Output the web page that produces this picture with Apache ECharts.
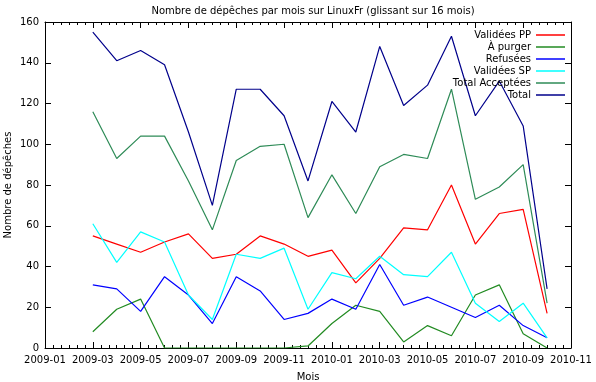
<!DOCTYPE html>
<html>
<head>
<meta charset="utf-8">
<script src="https://cdn.jsdelivr.net/npm/echarts@6/dist/echarts.min.js"></script>
<style>
html,body{margin:0;padding:0;background:#fff;overflow:hidden;}
#chart{width:596px;height:382px;}
</style>
</head>
<body>
<div id="chart"></div>
<script>
// Data (monthly, sliding over 16 months)
const months = ['2009-03','2009-04','2009-05','2009-06','2009-07','2009-08','2009-09','2009-10','2009-11','2009-12',
                '2010-01','2010-02','2010-03','2010-04','2010-05','2010-06','2010-07','2010-08','2010-09','2010-10'];
const validesPP      = [55, 51, 47, 52, 56, 44, 46, 55, 51, 45, 48, 32, 44, 59, 58, 80, 51, 66, 68, 17];
const aPurger        = [ 8, 19, 24,  0,  0,  0,  0,  0,  0,  1, 12, 21, 18,  3, 11,  6, 26, 31,  7,  0];
const refusees       = [31, 29, 18, 35, 26, 12, 35, 28, 14, 17, 24, 19, 41, 21, 25, 20, 15, 21, 11,  5];
const validesSP      = [61, 42, 57, 52, 26, 14, 46, 44, 49, 19, 37, 34, 45, 36, 35, 47, 22, 13, 22,  5];
const totalAcceptees = [116, 93, 104, 104, 82, 58, 92, 99, 100, 64, 85, 66, 89, 95, 93, 127, 73, 79, 90, 22];
const total          = [155, 141, 146, 139, 106, 70, 127, 127, 114, 82, 121, 106, 148, 119, 129, 153, 114, 131, 109, 29];
const seriesNames = ['Validées PP', 'À purger', 'Refusées', 'Validées SP', 'Total Acceptées', 'Total'];
const yTicks = [0, 20, 40, 60, 80, 100, 120, 140, 160];
const xStart = '2009-01', xEnd = '2010-11';

const colors = ['#ff0000', '#228b22', '#0000ff', '#00ffff', '#2e8b57', '#00008b'];
const FONT = 'DejaVu Sans';

function monthIndex(s) {
  const [y, m] = s.split('-').map(Number);
  const [y0, m0] = xStart.split('-').map(Number);
  return (y - y0) * 12 + (m - m0);
}
function monthLabel(i) {
  const [y0, m0] = xStart.split('-').map(Number);
  const t = y0 * 12 + (m0 - 1) + Math.round(i);
  const y = Math.floor(t / 12), m = t % 12 + 1;
  return y + '-' + (m < 10 ? '0' + m : m);
}
const xs = months.map(monthIndex);
const allData = [validesPP, aPurger, refusees, validesSP, totalAcceptees, total];

const chart = echarts.init(document.getElementById('chart'), null, {renderer: 'canvas'});

const xMin = 0, xMax = monthIndex(xEnd);
const baseX = {
  type: 'value', min: xMin, max: xMax, interval: 2,
  axisLine: {show: true, onZero: false, lineStyle: {color: '#000', width: 1}},
  axisTick: {show: true, inside: true, length: 6, lineStyle: {color: '#000'}},
  minorTick: {show: true, splitNumber: 6, length: 3, lineStyle: {color: '#000'}},
  splitLine: {show: false}
};
const baseY = {
  type: 'value', min: yTicks[0], max: yTicks[yTicks.length - 1], interval: yTicks[1] - yTicks[0],
  axisLine: {show: true, onZero: false, lineStyle: {color: '#000', width: 1}},
  axisTick: {show: true, inside: true, length: 6, lineStyle: {color: '#000'}},
  splitLine: {show: false}
};

const legends = seriesNames.map((n, i) => ({
  data: [n], orient: 'vertical', right: 31, top: 30 + 12 * i, padding: 0,
  align: 'right', icon: 'rect', itemWidth: 29, itemHeight: 1.5,
  selectedMode: false,
  textStyle: {fontFamily: FONT, fontSize: 10, color: '#000', padding: [0, 0, 0, 0]}
}));

chart.setOption({
  animation: false,
  backgroundColor: '#fff',
  title: {
    text: 'Nombre de dépêches par mois sur LinuxFr (glissant sur 16 mois)',
    left: 308, top: 1, textAlign: 'center',
    textStyle: {fontFamily: FONT, fontSize: 10, fontWeight: 'normal', color: '#000'}
  },
  legend: legends,
  grid: {left: 45, right: 25, top: 22, bottom: 34, containLabel: false, outerBoundsMode: 'none'},
  xAxis: [
    Object.assign({}, baseX, {
      position: 'bottom', name: 'Mois', nameLocation: 'middle', nameGap: 24, nameMoveOverlap: false,
      nameTextStyle: {fontFamily: FONT, fontSize: 10, color: '#000'},
      axisLabel: {show: true, margin: 7, fontFamily: FONT, fontSize: 10, color: '#000', formatter: v => monthLabel(v)}
    }),
    Object.assign({}, baseX, {position: 'top', axisLabel: {show: false}})
  ],
  yAxis: [
    Object.assign({}, baseY, {
      position: 'left', name: 'Nombre de dépêches', nameLocation: 'middle', nameGap: 32, nameRotate: 90,
      nameMoveOverlap: false,
      nameTextStyle: {fontFamily: FONT, fontSize: 10, color: '#000'},
      axisLabel: {show: true, margin: 6, fontFamily: FONT, fontSize: 10, color: '#000'}
    }),
    Object.assign({}, baseY, {position: 'right', axisLabel: {show: false}})
  ],
  series: seriesNames.map((n, i) => ({
    name: n, type: 'line', xAxisIndex: 0, yAxisIndex: 0,
    data: xs.map((x, k) => [x, allData[i][k]]),
    showSymbol: false, symbol: 'none',
    color: colors[i],
    lineStyle: {color: colors[i], width: 1.2},
    clip: true
  }))
});
</script>
</body>
</html>
